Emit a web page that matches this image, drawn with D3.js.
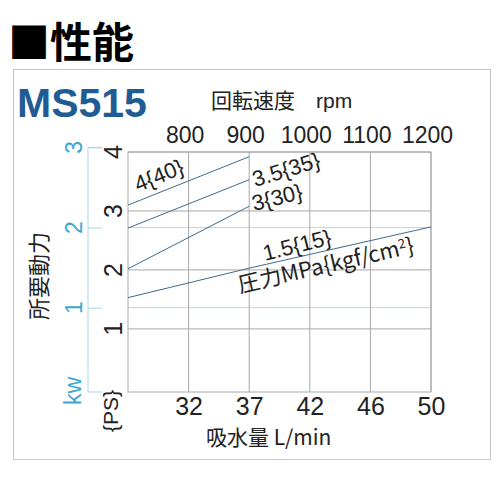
<!DOCTYPE html>
<html>
  <head>
    <title>MS515 性能</title>
    <meta charset="utf-8" />
    <script src="https://d3js.org/d3.v7.min.js"></script>
    <style>
      body { margin: 0; background: #fff; }
      text { font-family: "Liberation Sans", Arial, sans-serif; }
      .cjk { font-family: "Noto Sans CJK JP", sans-serif; }
    </style>
  </head>
  <body>
    <svg id="chart" width="500" height="500"></svg>

    <script>
      // datos
      const rpmTicks = [800, 900, 1000, 1100, 1200];
      const flowLabels = ["32", "37", "42", "46", "50"];
      const psTicks = [1, 2, 3, 4];
      const kwTicks = [1, 2, 3];

      const rpm40 = [700, 900];
      const ps40 = [3.1, 3.92];
      const rpm35 = [700, 900];
      const ps35 = [2.71, 3.53];
      const rpm30 = [700, 900];
      const ps30 = [2.02, 3.08];
      const rpm15 = [700, 900, 1200];
      const ps15 = [1.53, 2.03, 2.73];

      const PS_PER_KW = 1.3596;

      const svg = d3.select("#chart");

      // Escalas
      const x = d3.scaleLinear().domain([700, 1200]).range([128, 431]);
      const y = d3.scaleLinear().domain([-0.07, 4]).range([392, 152]);
      const yKw = d3
        .scaleLinear()
        .domain([-0.07 / PS_PER_KW, 3])
        .range([392, y(3 * PS_PER_KW)]);

      // marco exterior
      svg
        .append("rect")
        .attr("x", 13.5)
        .attr("y", 69.5)
        .attr("width", 477)
        .attr("height", 390)
        .attr("fill", "none")
        .attr("stroke", "#c8c8c8");

      // títulos
      svg
        .append("text")
        .attr("class", "cjk")
        .attr("x", 8)
        .attr("y", 58)
        .style("font-size", "42px")
        .style("font-weight", "bold")
        .attr("fill", "#000")
        .text("■性能");

      svg
        .append("text")
        .attr("x", 17)
        .attr("y", 117)
        .style("font-size", "41px")
        .style("font-weight", "bold")
        .attr("fill", "#1f5c94")
        .text("MS515");

      // rejilla kW (azul claro)
      svg
        .append("g")
        .selectAll("line")
        .data(kwTicks.filter((d) => yKw(d) > 152))
        .enter()
        .append("line")
        .attr("x1", 128)
        .attr("x2", 431)
        .attr("y1", (d) => yKw(d))
        .attr("y2", (d) => yKw(d))
        .attr("stroke", "#b3dced")
        .attr("stroke-width", 1);

      // eje kW
      const kwAxis = svg
        .append("g")
        .attr("transform", "translate(88,0)")
        .call(d3.axisRight(yKw).tickValues(kwTicks).tickSize(14).tickFormat(""));
      kwAxis.selectAll("line, path").attr("stroke", "#a9d6ea");
      kwAxis.select(".domain").attr("d", `M14,392H0V${yKw(3)}H14`);

      svg
        .append("g")
        .selectAll("text")
        .data(kwTicks)
        .enter()
        .append("text")
        .attr("transform", (d) => `translate(${74 + 0.36 * 23},${yKw(d)}) rotate(-90)`)
        .attr("text-anchor", "middle")
        .style("font-size", "23px")
        .attr("fill", "#3ea7d0")
        .text((d) => d);

      svg
        .append("text")
        .attr("transform", `translate(${75 + 0.26 * 23},391) rotate(-90)`)
        .attr("text-anchor", "middle")
        .style("font-size", "23px")
        .attr("fill", "#3ea7d0")
        .text("kw");

      // rejilla PS
      svg
        .append("g")
        .selectAll("line")
        .data(psTicks)
        .enter()
        .append("line")
        .attr("x1", 128)
        .attr("x2", 431)
        .attr("y1", (d) => y(d))
        .attr("y2", (d) => y(d))
        .attr("stroke", "#a8a8a8");

      svg
        .append("g")
        .selectAll("line")
        .data(rpmTicks)
        .enter()
        .append("line")
        .attr("x1", (d) => x(d))
        .attr("x2", (d) => x(d))
        .attr("y1", 152)
        .attr("y2", 392)
        .attr("stroke", "#a8a8a8");

      svg
        .append("rect")
        .attr("x", 128)
        .attr("y", 152)
        .attr("width", 303)
        .attr("height", 240)
        .attr("fill", "none")
        .attr("stroke", "#a8a8a8");

      // etiquetas PS giradas
      svg
        .append("g")
        .selectAll("text")
        .data(psTicks)
        .enter()
        .append("text")
        .attr("transform", (d) => `translate(${113 + 0.36 * 25},${y(d)}) rotate(-90)`)
        .attr("text-anchor", "middle")
        .style("font-size", "25px")
        .attr("fill", "#222")
        .text((d) => d);

      svg
        .append("text")
        .attr("transform", `translate(${110 + 0.36 * 21},411) rotate(-90)`)
        .attr("text-anchor", "middle")
        .style("font-size", "21px")
        .attr("fill", "#222")
        .text("{PS}");

      svg
        .append("text")
        .attr("class", "cjk")
        .attr("transform", `translate(${39 + 0.38 * 22},276) rotate(-90)`)
        .attr("text-anchor", "middle")
        .style("font-size", "22px")
        .attr("fill", "#222")
        .text("所要動力");

      // eje superior rpm
      const topAxis = svg
        .append("g")
        .attr("transform", "translate(0,152)")
        .call(
          d3
            .axisTop(x)
            .tickValues(rpmTicks)
            .tickSize(0)
            .tickPadding(9)
            .tickFormat(d3.format("d"))
        );
      topAxis.select(".domain").remove();
      topAxis
        .selectAll("text")
        .attr("dx", -4)
        .style("font-size", "23px")
        .style("font-family", "'Liberation Sans', Arial, sans-serif")
        .attr("fill", "#222");

      const rpmTitle = svg
        .append("text")
        .attr("x", 211)
        .attr("y", 108)
        .style("font-size", "21px")
        .attr("fill", "#222");
      rpmTitle.append("tspan").attr("class", "cjk").text("回転速度");
      rpmTitle.append("tspan").attr("x", 316).text("rpm");

      // eje inferior caudal
      const bottomAxis = svg
        .append("g")
        .attr("transform", "translate(0,392)")
        .call(
          d3
            .axisBottom(x)
            .tickValues(rpmTicks)
            .tickSize(0)
            .tickPadding(5)
            .tickFormat((d, i) => flowLabels[i])
        );
      bottomAxis.select(".domain").remove();
      bottomAxis
        .selectAll("text")
        .style("font-size", "25px")
        .style("font-family", "'Liberation Sans', Arial, sans-serif")
        .attr("fill", "#222");

      svg
        .append("text")
        .attr("class", "cjk")
        .attr("x", 206)
        .attr("y", 445)
        .style("font-size", "21px")
        .attr("fill", "#222")
        .text("吸水量 L/min");

      // curvas de potencia
      const line = d3
        .line()
        .x((d) => x(d[0]))
        .y((d) => y(d[1]));

      const curves = [
        d3.zip(rpm40, ps40),
        d3.zip(rpm35, ps35),
        d3.zip(rpm30, ps30),
        d3.zip(rpm15, ps15),
      ];

      svg
        .append("g")
        .selectAll("path")
        .data(curves)
        .enter()
        .append("path")
        .attr("d", line)
        .attr("fill", "none")
        .attr("stroke", "#3f6b8c")
        .attr("stroke-width", 1);

      // rótulos de las curvas
      const curveLabels = [
        { t: "4{40}", x: 138, y: 192, r: -22 },
        { t: "3.5{35}", x: 255, y: 187, r: -17 },
        { t: "3{30}", x: 254, y: 211, r: -14 },
        { t: "1.5{15}", x: 265, y: 261, r: -14 },
      ];
      svg
        .append("g")
        .selectAll("text")
        .data(curveLabels)
        .enter()
        .append("text")
        .attr("transform", (d) => `translate(${d.x},${d.y}) rotate(${d.r})`)
        .style("font-size", "22px")
        .attr("fill", "#222")
        .text((d) => d.t);

      const pLabel = svg
        .append("text")
        .attr("class", "cjk")
        .attr("transform", "translate(240,293) rotate(-13)")
        .style("font-size", "22px")
        .attr("fill", "#222");
      pLabel.append("tspan").text("圧力MPa{kgf/cm");
      pLabel.append("tspan").attr("dy", -7).style("font-size", "13px").text("2");
      pLabel.append("tspan").attr("dy", 7).text("}");
    </script>
  </body>
</html>
